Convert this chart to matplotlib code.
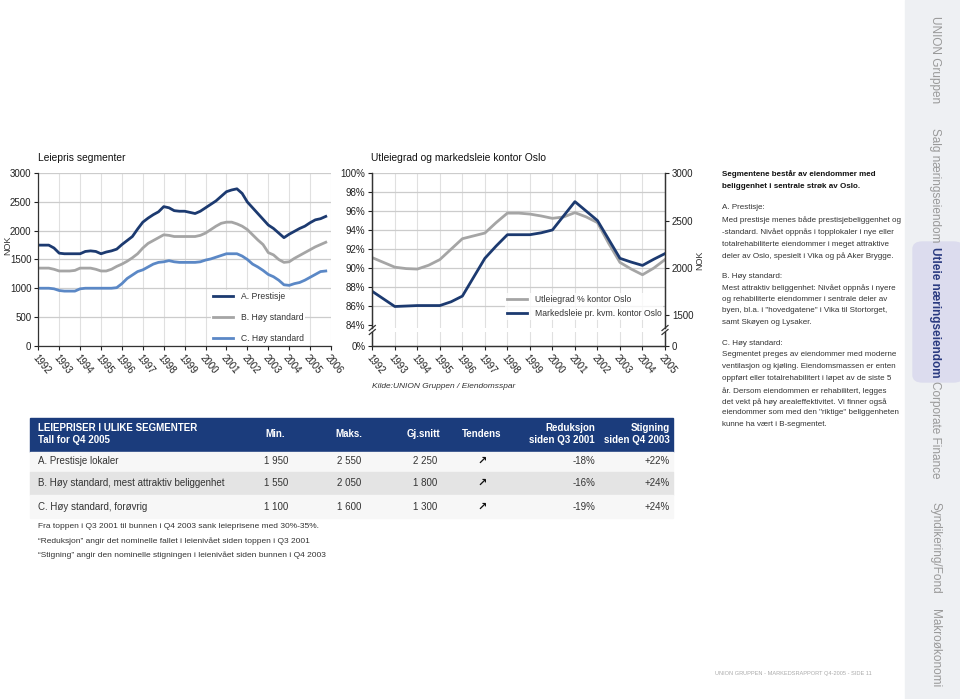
import numpy as np
import matplotlib
matplotlib.use("Agg")
import matplotlib.pyplot as plt
from matplotlib import font_manager
from matplotlib.patches import Rectangle, FancyBboxPatch
from matplotlib.lines import Line2D

navn = {f.name for f in font_manager.fontManager.ttflist}
if "Liberation Sans Narrow" in navn:
    plt.rcParams["font.family"] = ["Liberation Sans Narrow", "DejaVu Sans"]
else:
    plt.rcParams["font.family"] = ["Liberation Sans", "DejaVu Sans"]

# --- data: leiepris segmenter (kvartalsvis, NOK/kvm) ---
kvartal = np.arange(1992.0, 2005.76, 0.25)
a_prestisje = [1750, 1750, 1750, 1700, 1610, 1600, 1600, 1600, 1600, 1640, 1650, 1640,
               1600, 1630, 1650, 1680, 1760, 1830, 1900, 2030, 2150, 2220, 2280, 2330,
               2420, 2400, 2350, 2340, 2340, 2320, 2300, 2340, 2400, 2460, 2520, 2600,
               2680, 2710, 2730, 2650, 2500, 2400, 2300, 2200, 2100, 2040, 1960, 1880,
               1940, 1990, 2040, 2080, 2140, 2190, 2210, 2250]
b_hoy = [1350, 1350, 1350, 1330, 1300, 1300, 1300, 1310, 1350, 1350, 1350, 1330,
         1300, 1300, 1330, 1380, 1420, 1470, 1530, 1600, 1700, 1780, 1830, 1880,
         1930, 1920, 1900, 1900, 1900, 1900, 1900, 1920, 1960, 2020, 2080, 2130,
         2150, 2150, 2120, 2080, 2020, 1930, 1840, 1760, 1620, 1580, 1500, 1450,
         1460, 1520, 1570, 1620, 1670, 1720, 1760, 1800]
c_hoy = [1000, 1000, 1000, 990, 960, 950, 950, 950, 990, 1000, 1000, 1000,
         1000, 1000, 1000, 1010, 1080, 1170, 1230, 1290, 1320, 1370, 1420, 1450,
         1460, 1480, 1460, 1450, 1450, 1450, 1450, 1460, 1490, 1510, 1540, 1570,
         1600, 1600, 1600, 1560, 1500, 1420, 1370, 1310, 1240, 1200, 1140, 1060,
         1050, 1080, 1100, 1140, 1190, 1240, 1290, 1300]

# --- data: utleiegrad og markedsleie kontor Oslo (halvår) ---
halvaar = np.arange(1992.0, 2005.01, 0.5)
utleiegrad = [91.1, 90.6, 90.1, 89.95, 89.9, 90.3, 90.9, 92.0, 93.1, 93.4, 93.7, 94.8,
              95.8, 95.8, 95.7, 95.5, 95.25, 95.4, 95.85, 95.4, 94.8, 92.6, 90.6, 89.9,
              89.3, 90.0, 90.9]
markedsleie = [1750, 1670, 1590, 1595, 1600, 1600, 1600, 1640, 1700, 1900, 2100, 2230,
               2350, 2350, 2350, 2370, 2400, 2550, 2700, 2600, 2500, 2300, 2100, 2060,
               2025, 2090, 2150]

# --- tabell ---
tab_rader = ["A. Prestisje lokaler", "B. Høy standard, mest attraktiv beliggenhet",
             "C. Høy standard, forøvrig"]
tab_min = ["1 950", "1 550", "1 100"]
tab_maks = ["2 550", "2 050", "1 600"]
tab_snitt = ["2 250", "1 800", "1 300"]
tab_reduksjon = ["-18%", "-16%", "-19%"]
tab_stigning = ["+22%", "+24%", "+24%"]

fotnoter = ["Fra toppen i Q3 2001 til bunnen i Q4 2003 sank leieprisene med 30%-35%.",
            "\u201cReduksjon\u201d angir det nominelle fallet i leienivået siden toppen i Q3 2001",
            "\u201cStigning\u201d angir den nominelle stigningen i leienivået siden bunnen i Q4 2003"]

hoyre_tekst = [
    ("Segmentene består av eiendommer med", 174, True),
    ("beliggenhet i sentrale strøk av Oslo.", 186, True),
    ("A. Prestisje:", 208, False),
    ("Med prestisje menes både prestisjebeliggenhet og", 220, False),
    ("-standard. Nivået oppnås i topplokaler i nye eller", 232, False),
    ("totalrehabiliterte eiendommer i meget attraktive", 244, False),
    ("deler av Oslo, spesielt i Vika og på Aker Brygge.", 256, False),
    ("B. Høy standard:", 276, False),
    ("Mest attraktiv beliggenhet: Nivået oppnås i nyere", 288, False),
    ("og rehabiliterte eiendommer i sentrale deler av", 299, False),
    ("byen, bl.a. i \"hovedgatene\" i Vika til Stortorget,", 311, False),
    ("samt Skøyen og Lysaker.", 322, False),
    ("C. Høy standard:", 343, False),
    ("Segmentet preges av eiendommer med moderne", 355, False),
    ("ventilasjon og kjøling. Eiendomsmassen er enten", 367, False),
    ("oppført eller totalrehabilitert i løpet av de siste 5", 379, False),
    ("år. Dersom eiendommen er rehabilitert, legges", 391, False),
    ("det vekt på høy arealeffektivitet. Vi finner også", 402, False),
    ("eiendommer som med den \"riktige\" beliggenheten", 413, False),
    ("kunne ha vært i B-segmentet.", 424, False),
]

faner = [("UNION Gruppen", 60), ("Salg næringseiendom", 185), ("Utleie næringseiendom", 312),
         ("Corporate Finance", 430), ("Syndikering/Fond", 548), ("Makroøkonomi", 648)]

# --- farger ---
navy = "#1c3a70"
graa = "#a5a5a5"
lysblaa = "#5b88c6"
hgrid = "#cccccc"
vgrid = "#e0e0e0"
tekst = "#333333"

W, H = 960, 699
fig = plt.figure(figsize=(W / 100, H / 100), dpi=100)


def boks(x0, y0, x1, y1):
    return [x0 / W, 1 - y1 / H, (x1 - x0) / W, (y1 - y0) / H]


def ft(x, y, s, **kw):
    kw.setdefault("color", tekst)
    kw.setdefault("va", "center")
    fig.text(x / W, 1 - y / H, s, **kw)


def stil(ax):
    ax.tick_params(direction="out", length=3, width=0.8, labelsize=7, pad=2,
                   colors="#222222")
    for s in ax.spines.values():
        s.set_color("#333333")
        s.set_linewidth(0.9)


# ---------------- venstre figur ----------------
ax1 = fig.add_axes(boks(38.3, 173.3, 331, 345.7))
ax1.plot(kvartal, a_prestisje, color=navy, lw=2.0, solid_joinstyle="round", label="A. Prestisje")
ax1.plot(kvartal, b_hoy, color=graa, lw=2.0, solid_joinstyle="round", label="B. Høy standard")
ax1.plot(kvartal, c_hoy, color=lysblaa, lw=2.0, solid_joinstyle="round", label="C. Høy standard")
ax1.set_xlim(1992, 2006)
ax1.set_ylim(0, 3000)
ax1.set_yticks(range(0, 3001, 500))
ax1.set_xticks(range(1992, 2007))
ax1.set_xticklabels([str(a) for a in range(1992, 2007)], rotation=-50, ha="left",
                    va="top", rotation_mode="anchor")
ax1.grid(axis="x", color=vgrid, lw=0.8)
ax1.grid(axis="y", color=hgrid, lw=0.9)
ax1.set_axisbelow(True)
ax1.spines["top"].set_visible(False)
ax1.spines["right"].set_visible(False)
stil(ax1)
leg = ax1.legend(loc="upper left", bbox_to_anchor=(211 / W, 1 - 290 / H),
                 bbox_transform=fig.transFigure, fontsize=6.2, frameon=True,
                 handlelength=2.4, handletextpad=0.85, labelspacing=1.4, borderpad=0.2,
                 borderaxespad=0)
leg.get_frame().set_facecolor("white")
leg.get_frame().set_edgecolor("none")
leg.get_frame().set_alpha(1)
for t in leg.get_texts():
    t.set_color(tekst)

ft(38, 158, "Leiepris segmenter", fontsize=7.4, color="#111111")
ft(8, 245, "NOK", fontsize=6.5, rotation=90, ha="center")

# ---------------- midtre figur ----------------
topp, bunn_topp, topp_bunn, bunn = 173.3, 328.0, 332.0, 346.0
px_pct = (325 - topp) / 16
px_nok = (315 - topp) / 1500

axm = fig.add_axes(boks(372.3, topp, 665, bunn_topp))
axm.plot(halvaar, utleiegrad, color=graa, lw=2.0, solid_joinstyle="round",
         label="Utleiegrad % kontor Oslo")
axm.set_ylim(84 - (bunn_topp - 325) / px_pct, 100)
axm.set_xlim(1992, 2005)
axm.set_yticks(range(84, 101, 2))
axm.set_yticklabels(["%d%%" % v for v in range(84, 101, 2)])
axm.set_xticks(range(1992, 2006))
axm.grid(axis="x", color=vgrid, lw=0.8)
axm.grid(axis="y", color=hgrid, lw=0.9)
axm.set_axisbelow(True)
axm.spines["top"].set_visible(False)
axm.spines["bottom"].set_visible(False)
stil(axm)
axm.tick_params(axis="x", length=0, labelbottom=False)

axm2 = axm.twinx()
axm2.plot(halvaar, markedsleie, color=navy, lw=2.0, solid_joinstyle="round",
          label="Markedsleie pr. kvm. kontor Oslo")
axm2.set_ylim(1500 - (bunn_topp - 315) / px_nok, 3000)
axm2.set_yticks([1500, 2000, 2500, 3000])
axm2.spines["top"].set_visible(False)
axm2.spines["bottom"].set_visible(False)
stil(axm2)
axm2.tick_params(axis="x", length=0, labelbottom=False)

fig.canvas.draw()
axm.yaxis.get_gridlines()[0].set_visible(False)

axb = fig.add_axes(boks(372.3, topp_bunn, 665, bunn))
axb.set_xlim(1992, 2005)
axb.set_ylim(0, 1)
axb.set_yticks([0])
axb.set_yticklabels(["0%"])
axb.set_xticks(range(1992, 2006))
axb.set_xticklabels([str(a) for a in range(1992, 2006)], rotation=-50, ha="left",
                    va="top", rotation_mode="anchor")
axb.grid(axis="x", color=vgrid, lw=0.8)
axb.spines["top"].set_visible(False)
stil(axb)
axb2 = axb.twinx()
axb2.set_ylim(0, 1)
axb2.set_yticks([0])
axb2.set_yticklabels(["0"])
axb2.spines["top"].set_visible(False)
stil(axb2)
axb2.tick_params(axis="x", length=0, labelbottom=False)

h1, l1 = axm.get_legend_handles_labels()
h2, l2 = axm2.get_legend_handles_labels()
leg2 = axm2.legend(h1 + h2, l1 + l2, loc="upper left", bbox_to_anchor=(505 / W, 1 - 293 / H),
                   bbox_transform=fig.transFigure, fontsize=6.2, frameon=True,
                   handlelength=2.4, handletextpad=0.85, labelspacing=0.65, borderpad=0.2,
                   borderaxespad=0)
leg2.get_frame().set_facecolor("white")
leg2.get_frame().set_edgecolor("none")
for t in leg2.get_texts():
    t.set_color(tekst)

# brudd i aksene
for x in (372.3, 665):
    for y in (bunn_topp, topp_bunn):
        fig.add_artist(Line2D([(x - 3) / W, (x + 3) / W], [1 - (y + 2.5) / H, 1 - (y - 2.5) / H],
                              color="#333333", lw=0.9, transform=fig.transFigure))

ft(371, 158, "Utleiegrad og markedsleie kontor Oslo", fontsize=7.4, color="#111111")
ft(700, 260, "NOK", fontsize=6.5, rotation=90, ha="center")
ft(372, 386, "Kilde:UNION Gruppen / Eiendomsspar", fontsize=6, style="italic")

# ---------------- tabell ----------------
fig.add_artist(Rectangle((30 / W, 1 - 452 / H), 643 / W, 34 / H, color="#1b3c7c",
                         transform=fig.transFigure, zorder=0))
for i, (y0, y1) in enumerate([(452, 472), (472, 495), (495, 518)]):
    fig.add_artist(Rectangle((30 / W, 1 - y1 / H), 643 / W, (y1 - y0) / H,
                             color="#e4e4e4" if i == 1 else "#f7f7f7",
                             transform=fig.transFigure, zorder=0))

hk = dict(color="white", fontsize=7, fontweight="bold")
ft(38, 428, "LEIEPRISER I ULIKE SEGMENTER", **hk)
ft(38, 440, "Tall for Q4 2005", **hk)
ft(285, 434, "Min.", ha="right", **hk)
ft(362, 434, "Maks.", ha="right", **hk)
ft(440, 434, "Gj.snitt", ha="right", **hk)
ft(482, 434, "Tendens", ha="center", **hk)
ft(595, 428, "Reduksjon", ha="right", **hk)
ft(595, 440, "siden Q3 2001", ha="right", **hk)
ft(670, 428, "Stigning", ha="right", **hk)
ft(670, 440, "siden Q4 2003", ha="right", **hk)

for i, y in enumerate([461, 483, 507]):
    ft(38, y, tab_rader[i], fontsize=7)
    ft(288, y, tab_min[i], fontsize=7, ha="right")
    ft(361, y, tab_maks[i], fontsize=7, ha="right")
    ft(437, y, tab_snitt[i], fontsize=7, ha="right")
    ft(482, y, "\u2197", fontsize=8, ha="center", color="#111111",
       family=["DejaVu Sans"], fontweight="bold")
    ft(595, y, tab_reduksjon[i], fontsize=7, ha="right")
    ft(670, y, tab_stigning[i], fontsize=7, ha="right")

for i, s in enumerate(fotnoter):
    ft(38, 527 + 14 * i, s, fontsize=6)

# ---------------- tekst til høyre ----------------
for s, y, fet in hoyre_tekst:
    ft(722, y, s, fontsize=5.8, fontweight="bold" if fet else "normal",
       color="#111111" if fet else tekst)

# ---------------- sidefaner ----------------
fig.add_artist(Rectangle((905 / W, 0), 55 / W, 1, color="#eef0f3",
                         transform=fig.transFigure, zorder=0))
for tekst_fane, y in faner:
    aktiv = tekst_fane.startswith("Utleie")
    if aktiv:
        fig.add_artist(FancyBboxPatch((913 / W, 1 - 382 / H), 50 / W, 140 / H,
                                      boxstyle="round,pad=0,rounding_size=0.01",
                                      color="#dcdcee", transform=fig.transFigure, zorder=0))
    ft(935, y, tekst_fane, rotation=-90, ha="center", fontsize=8.5,
       color="#2a3a80" if aktiv else "#999999", fontweight="bold" if aktiv else "normal")

ft(793, 673, "UNION GRUPPEN - MARKEDSRAPPORT Q4-2005 - SIDE 11", fontsize=4.1,
   color="#aaaaaa", ha="center")

fig.savefig("out.png", dpi=100)
